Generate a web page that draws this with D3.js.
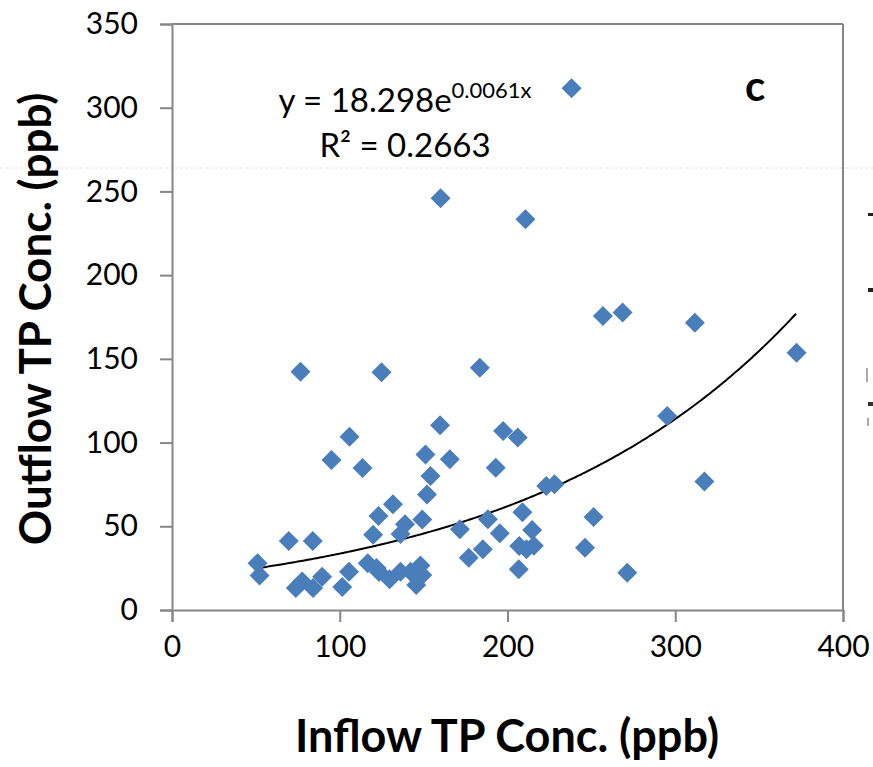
<!DOCTYPE html>
<html>
<head>
<meta charset="utf-8">
<script src="https://cdn.jsdelivr.net/npm/d3@7"></script>
<style>
  html, body { margin: 0; padding: 0; background: #fff; }
  svg { display: block; }
  text { font-family: Lato, "Open Sans", sans-serif; fill: #000; }
</style>
</head>
<body>
<svg id="chart" width="873" height="767"></svg>
<script>
// ---- data ----
const inflow = [238.2,160.1,210.7,256.9,268.6,311.7,372.3,76.6,124.9,183.5,295.2,159.8,105.8,197.4,206.1,95.1,113.6,151.1,165.6,193.0,154.1,152.0,131.7,223.1,228.0,317.4,123.1,149.2,138.9,136.2,119.9,208.9,188.3,171.6,195.4,214.7,251.3,69.6,83.9,207.0,211.3,215.7,185.3,176.9,246.2,206.7,271.4,51.0,52.2,73.8,77.6,84.1,89.5,101.5,105.5,116.7,121.9,123.4,129.7,136.2,142.2,148.1,145.6,149.2];
const outflow = [311.6,245.9,233.4,175.6,177.7,171.6,153.7,142.3,142.0,144.7,115.9,110.3,103.5,106.9,103.1,89.6,84.8,92.9,90.0,85.0,80.0,69.0,63.1,74.1,75.1,76.7,56.1,54.1,51.2,45.4,45.0,58.4,54.2,48.2,45.8,47.8,55.5,41.2,41.2,38.2,36.3,38.4,36.3,31.2,37.2,24.3,22.3,27.9,20.6,13.1,17.0,13.1,19.9,13.7,22.9,27.9,25.1,22.7,18.3,22.9,22.9,26.6,14.9,20.9];
const xTicks = [0, 100, 200, 300, 400];
const yTicks = [0, 50, 100, 150, 200, 250, 300, 350];
const trendA = 18.298;
const trendB = 0.0061;
const eqMain = "y = 18.298e";
const eqSup = "0.0061x";
const r2Text = "R² = 0.2663";
const panelLabel = "c";
const xTitle = "Inflow TP Conc. (ppb)";
const yTitle = "Outflow TP Conc. (ppb)";

// ---- layout ----
const svg = d3.select("#chart");
const L = 172, R = 843, T = 24, B = 610;
const x = d3.scaleLinear().domain([0, 400]).range([L, R]);
const y = d3.scaleLinear().domain([0, 350]).range([B, T]);
const axisColor = "#868686";

// faint dotted artifact line
svg.append("line").attr("x1", 0).attr("x2", 873).attr("y1", 168).attr("y2", 168)
  .attr("stroke", "#e6e4da").attr("stroke-width", 1).attr("stroke-dasharray", "3,2");

// frame top & right
svg.append("line").attr("x1", L).attr("x2", R).attr("y1", T).attr("y2", T)
  .attr("stroke", axisColor).attr("stroke-width", 2);
svg.append("line").attr("x1", R).attr("x2", R).attr("y1", T).attr("y2", B)
  .attr("stroke", axisColor).attr("stroke-width", 2);

// axes
const xAxis = svg.append("g").attr("transform", `translate(0,${B})`)
  .call(d3.axisBottom(x).tickValues(xTicks).tickSize(12).tickPadding(14).tickFormat(d3.format("d")));
const yAxis = svg.append("g").attr("transform", `translate(${L},0)`)
  .call(d3.axisLeft(y).tickValues(yTicks).tickSize(12).tickPadding(22).tickFormat(d3.format("d")));
[xAxis, yAxis].forEach(g => {
  g.select(".domain").attr("stroke", axisColor).attr("stroke-width", 2);
  g.selectAll(".tick line").attr("stroke", axisColor).attr("stroke-width", 2);
  g.selectAll(".tick text").style("font-family", "Lato, sans-serif").style("font-size", "30px").attr("fill", "#000");
});

// trend line
const xs = d3.range(d3.min(inflow), d3.max(inflow) + 0.01, 1);
svg.append("path")
  .datum(xs.map(v => [v, trendA * Math.exp(trendB * v)]))
  .attr("fill", "none").attr("stroke", "#000").attr("stroke-width", 2)
  .attr("d", d3.line().x(d => x(d[0])).y(d => y(d[1])));

// points
const rr = 10;
svg.append("g").selectAll("path").data(inflow.map((v, i) => [v, outflow[i]])).join("path")
  .attr("transform", d => `translate(${x(d[0])},${y(d[1])})`)
  .attr("d", `M0,${-rr}L${rr},0L0,${rr}L${-rr},0Z`)
  .attr("fill", "#4a7ebb");

// equation
const eq = svg.append("text").attr("x", 405).attr("y", 112).attr("text-anchor", "middle")
  .style("font-size", "33px");
eq.append("tspan").text(eqMain);
eq.append("tspan").attr("dy", -14).style("font-size", "22px").text(eqSup);
svg.append("text").attr("x", 405).attr("y", 157).attr("text-anchor", "middle")
  .style("font-size", "33px").text(r2Text);

// panel label
svg.append("text").attr("x", 755).attr("y", 101).attr("text-anchor", "middle")
  .style("font-size", "42px").style("font-weight", "bold").text(panelLabel);

// axis titles
svg.append("text").attr("x", 507).attr("y", 752).attr("text-anchor", "middle")
  .style("font-size", "45px").style("font-weight", "bold").text(xTitle);
svg.append("text").attr("transform", "translate(51,319) rotate(-90)").attr("text-anchor", "middle")
  .style("font-size", "44px").style("font-weight", "bold").text(yTitle);

// cut-off fragments at right edge
const frags = [[868, 213, 5, 3, "#222"], [868, 288, 5, 4, "#222"], [866, 368, 2, 14, "#aaa"], [868, 402, 5, 4, "#333"], [867, 418, 2, 8, "#aaa"]];
svg.append("g").selectAll("rect").data(frags).join("rect")
  .attr("x", d => d[0]).attr("y", d => d[1]).attr("width", d => d[2]).attr("height", d => d[3]).attr("fill", d => d[4]);
</script>
</body>
</html>
